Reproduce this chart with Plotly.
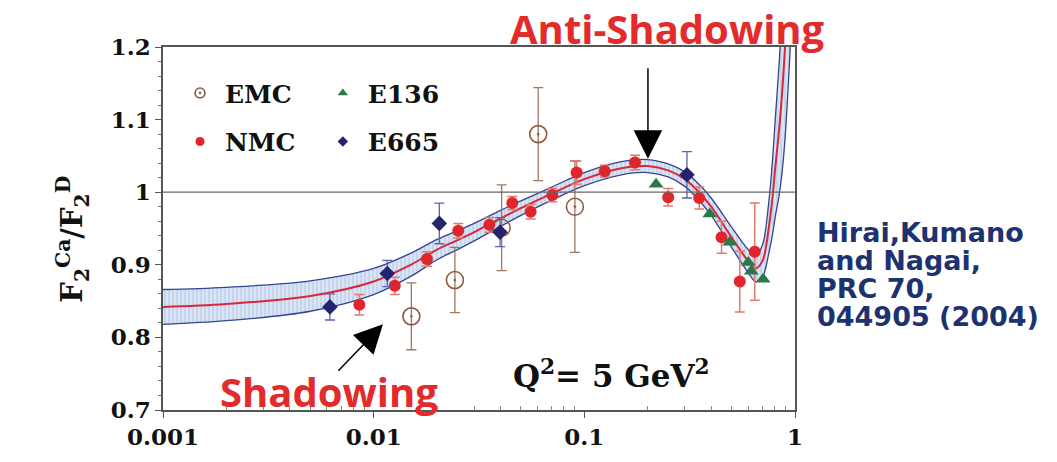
import plotly.graph_objects as go

# ---------------- data ----------------
# theory curve (HKN, Q^2 = 5 GeV^2): central value and uncertainty half-width
curve_x = [0.001, 0.002, 0.005, 0.01, 0.015, 0.02, 0.025, 0.03, 0.04, 0.05, 0.07, 0.1,
           0.15, 0.2, 0.25, 0.3, 0.35, 0.4, 0.5, 0.6, 0.65, 0.7, 0.75, 0.78, 0.81,
           0.84, 0.87, 0.9, 0.95]
curve_y = [0.842, 0.846, 0.857, 0.877, 0.900, 0.921, 0.934, 0.945, 0.964, 0.978, 0.998, 1.018,
           1.033, 1.036, 1.030, 1.018, 1.000, 0.980, 0.938, 0.905, 0.895, 0.905, 0.950, 0.990, 1.040,
           1.085, 1.140, 1.210, 1.400]
curve_err = [0.024, 0.023, 0.021, 0.018, 0.016, 0.014, 0.013, 0.012, 0.011, 0.010, 0.009, 0.009,
             0.009, 0.009, 0.009, 0.010, 0.011, 0.012, 0.014, 0.016, 0.018, 0.022, 0.035, 0.050, 0.070,
             0.090, 0.110, 0.130, 0.200]

# EMC
emc_x = [0.0151, 0.0243, 0.0405, 0.0604, 0.0902]
emc_y = [0.829, 0.879, 0.951, 1.080, 0.980]
emc_e = [0.046, 0.045, 0.059, 0.064, 0.063]

# NMC
nmc_x = [0.00855, 0.0126, 0.0179, 0.0252, 0.0354, 0.0455, 0.0556, 0.0705, 0.0919,
         0.125, 0.174, 0.25, 0.351, 0.448, 0.547, 0.644]
nmc_y = [0.845, 0.871, 0.908, 0.947, 0.955, 0.985, 0.973, 0.996, 1.027,
         1.029, 1.041, 0.993, 0.992, 0.938, 0.877, 0.918]
nmc_e = [0.014, 0.012, 0.010, 0.010, 0.010, 0.009, 0.010, 0.009, 0.016,
         0.008, 0.010, 0.012, 0.015, 0.022, 0.042, 0.067]

# E136
e136_x = [0.219, 0.394, 0.49, 0.60, 0.62, 0.706]
e136_y = [1.011, 0.970, 0.931, 0.903, 0.891, 0.880]

# E665
e665_x = [0.0062, 0.0116, 0.0205, 0.0398, 0.307]
e665_y = [0.842, 0.888, 0.957, 0.945, 1.024]
e665_e = [0.018, 0.018, 0.028, 0.020, 0.032]

x_tickvals = [0.001, 0.01, 0.1, 1]
x_ticktext = ["0.001", "0.01", "0.1", "1"]
x_minor = [m * d for d in (0.001, 0.01, 0.1) for m in range(2, 10)]
y_tickvals = [0.7, 0.8, 0.9, 1.0, 1.1, 1.2]
y_ticktext = ["0.7", "0.8", "0.9", "1", "1.1", "1.2"]

citation_lines = ["Hirai,Kumano", "and Nagai,", "PRC 70,", "044905 (2004)"]

# ---------------- figure ----------------
band_lo = [c - e for c, e in zip(curve_y, curve_err)]
band_hi = [c + e for c, e in zip(curve_y, curve_err)]

fig = go.Figure()
fig.add_trace(go.Scatter(x=curve_x, y=band_lo, mode="lines", line=dict(color="#34468f", width=1.3, shape="spline"),
                         showlegend=False, hoverinfo="skip"))
fig.add_trace(go.Scatter(x=curve_x, y=band_hi, mode="lines", line=dict(color="#34468f", width=1.3, shape="spline"),
                         fill="tonexty", fillcolor="#d9e4f4",
                         fillpattern=dict(shape="|", bgcolor="#d9e4f4", fgcolor="#8fa8d8", size=4, solidity=0.25),
                         showlegend=False, hoverinfo="skip"))
fig.add_trace(go.Scatter(x=curve_x, y=curve_y, mode="lines", line=dict(color="#d8283a", width=2, shape="spline"),
                         showlegend=False, hoverinfo="skip"))

font_serif = "DejaVu Serif"

emc_marker = dict(symbol="circle-open-dot", color="#8c5a40", line=dict(width=1.6, color="#8c5a40"))
nmc_marker = dict(symbol="circle", color="#e0262c")
e136_marker = dict(symbol="triangle-up", color="#2a7a48")
e665_marker = dict(symbol="diamond", color="#24246e")

fig.add_trace(go.Scatter(x=emc_x, y=emc_y, mode="markers", name="EMC", showlegend=False,
                         marker=dict(size=17, **emc_marker),
                         error_y=dict(type="data", array=emc_e, color="#a07860", thickness=1.3, width=5)))
fig.add_trace(go.Scatter(x=nmc_x, y=nmc_y, mode="markers", name="NMC", showlegend=False,
                         marker=dict(size=12, **nmc_marker),
                         error_y=dict(type="data", array=nmc_e, color="#e47a6a", thickness=1.5, width=5)))
fig.add_trace(go.Scatter(x=e136_x, y=e136_y, mode="markers", name="E136", showlegend=False,
                         marker=dict(size=13, **e136_marker)))
fig.add_trace(go.Scatter(x=e665_x, y=e665_y, mode="markers", name="E665", showlegend=False,
                         marker=dict(size=12, **e665_marker),
                         error_y=dict(type="data", array=e665_e, color="#5a64a8", thickness=1.3, width=5)))

# legend entries (small symbols as in the reference)
for name, mk, sz, lg in [("EMC", emc_marker, 10, "legend"), ("NMC", nmc_marker, 9, "legend"),
                         ("E136", e136_marker, 9, "legend2"), ("E665", e665_marker, 8, "legend2")]:
    fig.add_trace(go.Scatter(x=[None], y=[None], mode="markers", name=name, marker=dict(size=sz, **mk),
                             legend=lg, legendgroup=name, showlegend=True))

legend_common = dict(font=dict(family=font_serif, size=25, color="#111", weight="bold"), bgcolor="rgba(0,0,0,0)",
                     itemsizing="trace", itemwidth=40, tracegroupgap=13, xanchor="left", yanchor="top")

fig.update_layout(
    width=1057, height=462,
    margin=dict(l=163, r=262, t=47, b=39),
    paper_bgcolor="white", plot_bgcolor="white",
    showlegend=True,
    legend=dict(x=0.019, y=0.936, **legend_common),
    legend2=dict(x=0.245, y=0.936, **legend_common),
    xaxis=dict(type="log", range=[-3, 0], tickvals=x_tickvals, ticktext=x_ticktext,
               ticks="outside", ticklen=6, tickcolor="#555", showline=True, linecolor="#555", linewidth=1.5,
               mirror=True, showgrid=False, zeroline=False,
               tickfont=dict(family=font_serif, size=23, color="#111", weight="bold"),
               minor=dict(tickvals=x_minor, ticks="inside", ticklen=4, tickcolor="#888", showgrid=False)),
    yaxis=dict(range=[0.7, 1.2], tickvals=y_tickvals, ticktext=y_ticktext,
               ticks="outside", ticklen=6, tickcolor="#555", showline=True, linecolor="#555", linewidth=1.5,
               mirror=True, showgrid=False, zeroline=False,
               tickfont=dict(family=font_serif, size=23, color="#111", weight="bold"),
               minor=dict(dtick=0.02, ticks="outside", ticklen=3, tickcolor="#777", showgrid=False)),
)

fig.add_shape(type="line", xref="paper", yref="y", x0=0, x1=1, y0=1.0, y1=1.0,
              line=dict(color="#666", width=1.3))

# y-axis title
fig.add_annotation(xref="paper", yref="paper", x=-0.144, y=0.472, xanchor="center", yanchor="middle",
                   textangle=-90, showarrow=False,
                   text="<b>F<sub>2</sub><sup>Ca</sup>/F<sub>2</sub><sup>D</sup></b>",
                   font=dict(family=font_serif, size=29, color="#111"))

# red labels
fig.add_annotation(xref="paper", yref="paper", x=0.798, y=1.05, xanchor="center", yanchor="middle",
                   showarrow=False, text="<b>Anti-Shadowing</b>",
                   font=dict(family="Open Sans", size=40, color="#e32b2b"))
fig.add_annotation(xref="paper", yref="paper", x=0.263, y=0.05, xanchor="center", yanchor="middle",
                   showarrow=False, text="<b>Shadowing</b>",
                   font=dict(family="Open Sans", size=40, color="#e32b2b"))

# arrows
fig.add_annotation(xref="x", yref="y", x=-0.698, y=1.046, ax=0, ay=-92, text="", showarrow=True,
                   arrowhead=2, arrowsize=3.8, arrowwidth=1.5, arrowcolor="#000")
fig.add_annotation(xref="x", yref="y", x=-1.956, y=0.818, ax=-46, ay=48, text="", showarrow=True,
                   arrowhead=2, arrowsize=3.8, arrowwidth=1.5, arrowcolor="#000")

# Q^2 label
fig.add_annotation(xref="paper", yref="paper", x=0.71, y=0.1, xanchor="center", yanchor="middle",
                   showarrow=False, text="<b>Q<sup>2</sup>= 5 GeV<sup>2</sup></b>",
                   font=dict(family=font_serif, size=31, color="#111"))

# citation (one annotation per line to keep the tight line spacing)
for i, line in enumerate(citation_lines):
    ypix = 239 + 29 * i
    fig.add_annotation(xref="paper", yref="paper", x=1.032, y=(423 - ypix) / 376, xanchor="left", yanchor="middle",
                       showarrow=False, text=line,
                       font=dict(family="DejaVu Sans", size=27, color="#1d3270", weight="bold"))

fig.write_html("out.html")
